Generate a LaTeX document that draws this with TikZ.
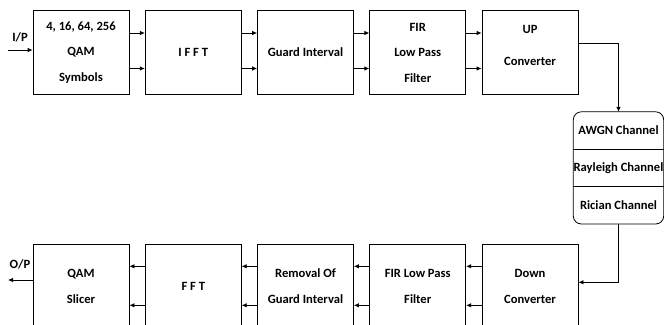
\documentclass[tikz,border=0pt]{standalone}
\usepackage{fontspec}
\setmainfont{Carlito}
\usetikzlibrary{positioning, arrows.meta}

\begin{document}
\begin{tikzpicture}[
    x=1pt, y=-1pt,
    node distance=112.25pt,
    >={Latex[length=5pt,width=4.5pt]},
    every node/.style={font=\fontsize{12.6}{25.5}\selectfont\bfseries},
    block/.style={
      draw,
      rectangle,
      line width=0.8pt,
      minimum width=96pt,
      minimum height=84pt,
      align=center
    },
    chpart/.style={
      minimum width=90pt,
      minimum height=37pt,
      inner sep=0pt
    }
  ]
  \useasboundingbox (0,0) rectangle (664,324);

  % transmitter
  \node[block] (qam) at (81,52.5) {4, 16, 64, 256\\QAM\\Symbols};
  \node[block, right of=qam] (ifft) {I F F T};
  \node[block, right of=ifft] (gi) {Guard Interval};
  \node[block, right of=gi] (fir) {FIR\\Low Pass\\Filter};
  \node[block, right of=fir] (up) {UP\\[6pt]Converter\\[-11pt]~};

  % channel
  \node[chpart] (awgn) at (618.5,130.5) {AWGN Channel};
  \node[chpart, below=0pt of awgn] (rayl) {Rayleigh Channel};
  \node[chpart, below=0pt of rayl] (rician) {Rician Channel};
  \draw[line width=0.8pt, rounded corners=8pt] (awgn.north west) rectangle (rician.south east);
  \draw[line width=0.8pt] (awgn.south west) -- (awgn.south east);
  \draw[line width=0.8pt] (rayl.south west) -- (rayl.south east);

  % receiver
  \node[block, below=149pt of up] (down) {Down\\Converter};
  \node[block, left of=down] (firr) {FIR Low Pass\\Filter};
  \node[block, left of=firr] (rgi) {Removal Of\\Guard Interval};
  \node[block, left of=rgi] (fft) {F F T};
  \node[block, left of=fft] (slicer) {QAM\\Slicer};

  % in / out
  \coordinate (ip) at (8,50);
  \coordinate (op) at (8,280);
  \node (iplbl) at (20,37) {I/P};
  \node (oplbl) at (20,264) {O/P};
  \draw[->, line width=0.8pt] (ip) -- (qam.west |- ip);
  \draw[->, line width=0.8pt] (slicer.west |- op) -- (op);

  \foreach \a/\b in {qam/ifft, ifft/gi, gi/fir, fir/up} {
    \draw[->, line width=0.8pt] ([yshift=19.5pt]\a.east) -- ([yshift=19.5pt]\b.west);
    \draw[->, line width=0.8pt] ([yshift=-16pt]\a.east) -- ([yshift=-16pt]\b.west);
  }
  \foreach \a/\b in {down/firr, firr/rgi, rgi/fft, fft/slicer} {
    \draw[->, line width=0.8pt] ([yshift=20pt]\a.west) -- ([yshift=20pt]\b.east);
    \draw[->, line width=0.8pt] ([yshift=-19pt]\a.west) -- ([yshift=-19pt]\b.east);
  }

  \draw[->, line width=0.8pt] ([yshift=9.5pt]up.east) -| (awgn.north);
  \draw[->, line width=0.8pt] (rician.south) |- ([yshift=4pt]down.east);
\end{tikzpicture}
\end{document}
